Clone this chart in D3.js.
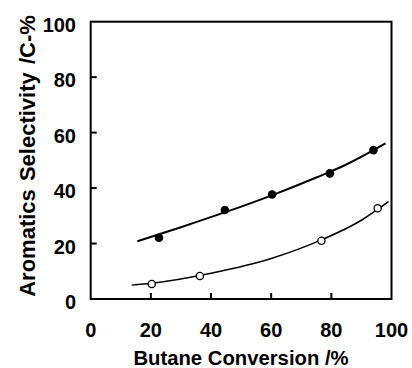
<!DOCTYPE html>
<html>
<head>
<meta charset="utf-8">
<script src="https://cdn.jsdelivr.net/npm/d3@7"></script>
<style>
  body { margin: 0; background: #fff; }
  svg { display: block; font-family: "Liberation Sans", Arial, sans-serif; }
</style>
</head>
<body>
<div id="chart"></div>
<script>
// Data
const filledX = [22.7, 44.6, 60.3, 79.5, 94.0];
const filledY = [22.1, 32.1, 37.7, 45.3, 53.7];
const openX = [20.3, 36.3, 76.7, 95.4];
const openY = [5.4, 8.3, 21.0, 32.7];
// fitted curves drawn through the points
const filledFitX = [15.5, 30, 45, 60, 75, 85, 98];
const filledFitY = [20.8, 25.9, 31.4, 37.3, 43.8, 48.5, 56.1];
const openFitX = [13.6, 20.3, 40, 60, 76.7, 90, 99];
const openFitY = [5.0, 5.7, 9.3, 14.6, 21.3, 28.4, 35.1];
const xTicks = [0, 20, 40, 60, 80, 100];
const yTicks = [0, 20, 40, 60, 80, 100];

const width = 412, height = 368;
const margin = {left: 90.7, right: 20.5, top: 21.7, bottom: 69};

const svg = d3.select("#chart").append("svg")
  .attr("width", width)
  .attr("height", height);

const x = d3.scaleLinear().domain([0, 100]).range([margin.left, width - margin.right]);
const y = d3.scaleLinear().domain([0, 100]).range([height - margin.bottom, margin.top]);

// frame
svg.append("rect")
  .attr("x", x(0)).attr("y", y(100))
  .attr("width", x(100) - x(0)).attr("height", y(0) - y(100))
  .attr("fill", "none").attr("stroke", "#000").attr("stroke-width", 2);

// inward ticks
svg.selectAll("line.xt").data(xTicks.slice(1, -1)).enter().append("line")
  .attr("x1", d => x(d)).attr("x2", d => x(d))
  .attr("y1", y(0)).attr("y2", y(0) - 6)
  .attr("stroke", "#000").attr("stroke-width", 2);
svg.selectAll("line.yt").data(yTicks.slice(1, -1)).enter().append("line")
  .attr("x1", x(0)).attr("x2", x(0) + 6)
  .attr("y1", d => y(d)).attr("y2", d => y(d))
  .attr("stroke", "#000").attr("stroke-width", 2);

// tick labels
svg.selectAll("text.xl").data(xTicks).enter().append("text")
  .attr("x", d => x(d)).attr("y", 336.5)
  .attr("text-anchor", "middle")
  .style("font-size", "20px").style("font-weight", "bold")
  .text(d => d);
svg.selectAll("text.yl").data(yTicks).enter().append("text")
  .attr("x", 76).attr("y", d => y(d) + 10)
  .attr("text-anchor", "end")
  .style("font-size", "20px").style("font-weight", "bold")
  .text(d => d);

// axis titles
svg.append("text")
  .attr("x", 241).attr("y", 365)
  .attr("text-anchor", "middle")
  .style("font-size", "20.3px").style("font-weight", "bold")
  .text("Butane Conversion /%");
svg.append("text")
  .attr("transform", "translate(34.5," + 156 + ") rotate(-90)")
  .attr("text-anchor", "middle")
  .style("font-size", "22px").style("font-weight", "bold")
  .style("word-spacing", "2px")
  .text("Aromatics Selectivity /C-%");

// curves
const line = d3.line()
  .x(d => x(d[0])).y(d => y(d[1]))
  .curve(d3.curveMonotoneX);

svg.append("path")
  .datum(d3.zip(filledFitX, filledFitY))
  .attr("d", line)
  .attr("fill", "none").attr("stroke", "#000").attr("stroke-width", 2);
svg.append("path")
  .datum(d3.zip(openFitX, openFitY))
  .attr("d", line)
  .attr("fill", "none").attr("stroke", "#000").attr("stroke-width", 1.5);

// markers
svg.selectAll("circle.f").data(d3.zip(filledX, filledY)).enter().append("circle")
  .attr("cx", d => x(d[0])).attr("cy", d => y(d[1]))
  .attr("r", 4.3).attr("fill", "#000");
svg.selectAll("circle.o").data(d3.zip(openX, openY)).enter().append("circle")
  .attr("cx", d => x(d[0])).attr("cy", d => y(d[1]))
  .attr("r", 3.6).attr("fill", "#fff").attr("stroke", "#000").attr("stroke-width", 1.3);
</script>
</body>
</html>
